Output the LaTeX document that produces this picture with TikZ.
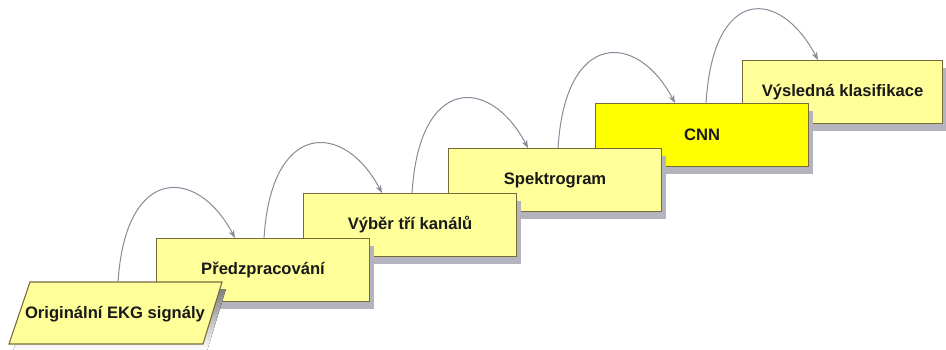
\documentclass[tikz,border=0pt]{standalone}
\usepackage{fontspec}
\setmainfont{Liberation Sans}
\usetikzlibrary{arrows.meta,shadows}
\definecolor{pale}{HTML}{FFFF99}
\definecolor{bright}{HTML}{FFFF00}
\definecolor{edge}{HTML}{7A6A3A}
\definecolor{shade}{HTML}{B4B4BE}
\definecolor{flow}{HTML}{8A8A98}
\begin{document}
\begin{tikzpicture}[x=1pt,y=-1pt,
  label font/.style={font=\fontsize{16.6}{18}\selectfont\bfseries, text=black!90},
  stage/.style={draw=edge, line width=1.1pt, fill=pale, minimum width=213pt,
    minimum height=63pt, inner sep=0pt, label font, anchor=north west,
    drop shadow={shadow xshift=4pt, shadow yshift=-7pt, fill=shade, opacity=1}},
  flowarrow/.style={draw=flow, line width=1pt, -{Stealth[length=8pt,width=6pt]}}
]
\useasboundingbox (0,0) rectangle (946,349);

% stages, drawn from the last one so that earlier ones lie on top
\node[stage, minimum width=200pt] (b6) at (742,60) {Výsledná klasifikace};
\node[stage, fill=bright] (b5) at (595,103) {CNN};
\node[stage] (b4) at (448,148) {Spektrogram};
\node[stage] (b3) at (303,193) {Výběr tří kanálů};
\node[stage] (b2) at (156,238) {Předzpracování};

% input stage: a slanted parallelogram with its shadow
\fill[shade] (34,289) -- (226,289) -- (207,351) -- (13,351) -- cycle;
\draw[draw=edge, line width=1.1pt, fill=pale]
  (30,282) -- (222,282) -- (203,344) -- (9,344) -- cycle;
\node[label font, minimum height=62pt, inner sep=0pt] (b1) at (115,314) {Originální EKG signály};

% arched connectors between consecutive stages
\draw[flowarrow] ([xshift=3pt]b1.north) .. controls +(7,-118) and +(-38,-72) .. ([xshift=79pt]b2.north west);
\draw[flowarrow] ([xshift=1pt]b2.north) .. controls +(7,-118) and +(-38,-72) .. ([xshift=79pt]b3.north west);
\draw[flowarrow] ([xshift=2pt]b3.north) .. controls +(7,-118) and +(-38,-72) .. ([xshift=80pt]b4.north west);
\draw[flowarrow] ([xshift=3pt]b4.north) .. controls +(7,-118) and +(-38,-72) .. ([xshift=80pt]b5.north west);
\draw[flowarrow] ([xshift=4pt]b5.north) .. controls +(7,-118) and +(-38,-72) .. ([xshift=76pt]b6.north west);
\end{tikzpicture}
\end{document}
